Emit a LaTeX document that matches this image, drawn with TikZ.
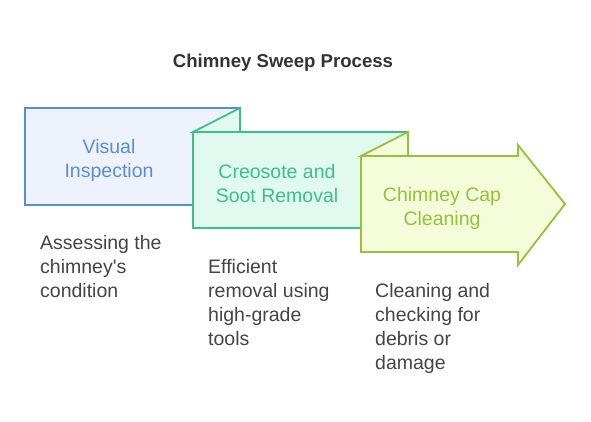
\documentclass[tikz,border=0pt]{standalone}
\usepackage{fontspec}
\setmainfont{Liberation Sans}
\newfontfamily\plainsans{Liberation Sans}
\definecolor{bstroke}{HTML}{5B8BD8}
\definecolor{bfill}{HTML}{EEF2FC}
\definecolor{gstroke}{HTML}{3DBE8B}
\definecolor{gfill}{HTML}{E0FAF0}
\definecolor{ystroke}{HTML}{95C13C}
\definecolor{yfill}{HTML}{F4FCD9}
\definecolor{desc}{HTML}{444444}
\definecolor{ttl}{HTML}{333333}
\begin{document}
\begin{tikzpicture}[x=1pt,y=-1pt,
  shp/.style={line width=1.8pt,line join=miter},
  lbl/.style={align=center,font=\fontsize{19.5}{24}\selectfont,inner sep=0pt},
  dsc/.style={align=left,anchor=north west,text=desc,font=\plainsans\fontsize{19.5}{24}\selectfont,inner sep=0pt}]
\useasboundingbox (0,0) rectangle (591,422);
\node[font=\bfseries\fontsize{18.6}{20}\selectfont,text=ttl] (title) at (283,63) {Chimney Sweep Process};
% blue
\draw[shp,draw=bstroke,fill=bfill] (25,108) rectangle (240,205);
% green
\draw[shp,draw=gstroke,fill=gfill] (193,132) rectangle (408,228);
\draw[shp,draw=gstroke,fill=gfill] (193,132) -- (240,108) -- (240,132) -- cycle;
% yellow
\draw[shp,draw=ystroke,fill=yfill] (361,156) -- (518,156) -- (518,145) -- (565,204) -- (518,265) -- (518,252) -- (361,252) -- cycle;
\draw[shp,draw=ystroke,fill=yfill] (361,156) -- (408,132) -- (408,156) -- cycle;
\node[lbl,text=bstroke] (l1) at (109,160) {Visual\\Inspection};
\node[lbl,text=gstroke] (l2) at (277,184) {Creosote and\\Soot Removal};
\node[lbl,text=ystroke] (l3) at (442,208) {Chimney Cap\\Cleaning};
\node[dsc] (d1) at (40,235) {Assessing the\\chimney's\\condition};
\node[dsc] (d2) at (208,259) {Efficient\\removal using\\high-grade\\tools};
\node[dsc] (d3) at (375,283) {Cleaning and\\checking for\\debris or\\damage};
\end{tikzpicture}
\end{document}
